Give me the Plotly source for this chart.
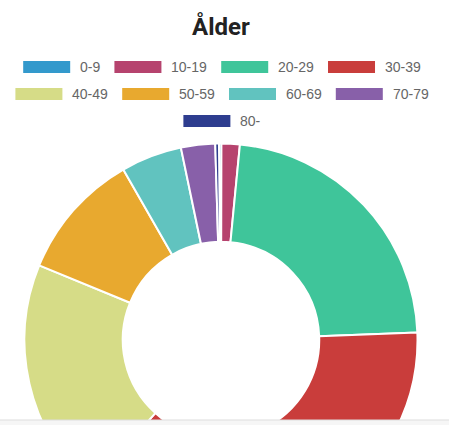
import plotly.graph_objects as go

# Age distribution (share of cases, %)
age_groups = ["0-9", "10-19", "20-29", "30-39", "40-49", "50-59", "60-69", "70-79", "80-"]
shares = [0.2, 1.5, 22.8, 37.2, 19.5, 10.5, 5.0, 2.8, 0.3]
colors = ["#3399cc", "#b6436e", "#3fc59a", "#c93d3b", "#d6dc87",
          "#e8a92f", "#61c3bf", "#8860a9", "#2e3d8f"]

W, H = 449, 545

fig = go.Figure(go.Pie(
    labels=age_groups,
    values=shares,
    sort=False,
    direction="clockwise",
    rotation=-0.6,
    hole=0.5,
    marker=dict(colors=colors, line=dict(color="white", width=2)),
    textinfo="none",
    hoverinfo="label+value",
    showlegend=False,
    domain=dict(x=[24.5 / W, 417.5 / W], y=[1 - 536.5 / H, 1 - 143.5 / H]),
))

# Legend drawn as wide colour boxes with labels, wrapped into centred rows
font_px = 14
box_w, box_h, box_gap, item_gap = 47, 12, 8, 16
char_w = {"-": 0.333}
def text_width(s):
    return sum(char_w.get(c, 0.556) for c in s) * font_px

items = [(lab, col, box_w + box_gap + text_width(lab)) for lab, col in zip(age_groups, colors)]
rows, cur, cur_w = [], [], 0
for it in items:
    add = it[2] + (item_gap if cur else 0)
    if cur and cur_w + add > 430:
        rows.append(cur)
        cur, cur_w = [], 0
        add = it[2]
    cur.append(it)
    cur_w += add
rows.append(cur)

shapes, annotations = [], []
legend_cx, row_y0, row_dy = 221, 67, 27
for r, row in enumerate(rows):
    total = sum(it[2] for it in row) + item_gap * (len(row) - 1)
    x = legend_cx - total / 2
    yc = row_y0 + r * row_dy
    for lab, col, w in row:
        shapes.append(dict(type="rect", xref="paper", yref="paper",
                           x0=x / W, x1=(x + box_w) / W,
                           y0=1 - (yc + box_h / 2) / H, y1=1 - (yc - box_h / 2) / H,
                           fillcolor=col, line=dict(width=0)))
        annotations.append(dict(text=lab, xref="paper", yref="paper",
                                x=(x + box_w + box_gap) / W, y=1 - yc / H,
                                xanchor="left", yanchor="middle", showarrow=False,
                                font=dict(family="Liberation Sans, Arial", size=font_px, color="#666666")))
        x += w + item_gap

# Title
annotations.append(dict(text="<b>Ålder</b>", xref="paper", yref="paper",
                        x=221 / W, y=1 - 26 / H, xanchor="center", yanchor="middle",
                        showarrow=False,
                        font=dict(family="Roboto, Arial", size=24, color="#222222")))

# Page footer strip below the chart area
shapes.append(dict(type="rect", xref="paper", yref="paper", x0=0, x1=1,
                   y0=0, y1=1 - 420 / H, fillcolor="#f6f6f6", line=dict(width=0), layer="above"))
shapes.append(dict(type="line", xref="paper", yref="paper", x0=0, x1=1,
                   y0=1 - 420 / H, y1=1 - 420 / H, line=dict(color="#dddddd", width=1), layer="above"))

fig.update_layout(
    width=W, height=H,
    margin=dict(l=0, r=0, t=0, b=0),
    paper_bgcolor="white",
    plot_bgcolor="white",
    shapes=shapes,
    annotations=annotations,
)

fig.write_html("out.html")
